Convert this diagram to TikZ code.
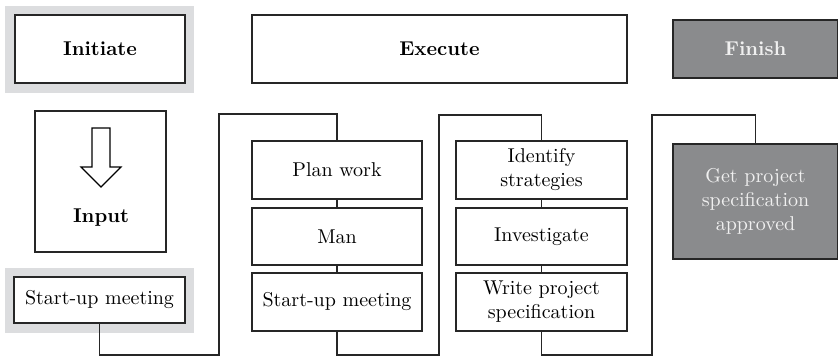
\documentclass[tikz,border=0pt]{standalone}
\usetikzlibrary{positioning}

\definecolor{lightgrey}{RGB}{220,221,223}
\definecolor{darkgrey}{RGB}{138,139,141}

\begin{document}
\begin{tikzpicture}[
  x=0.5pt, y=-0.5pt,
  box/.style={rectangle, draw=black!85, line width=0.6pt, fill=white, minimum width=85pt, minimum height=29pt, align=center, inner sep=1pt},
  head/.style={box, minimum height=34pt, font=\bfseries},
  dark/.style={box, fill=darkgrey, text=white!94!black},
  halo/.style={rectangle, fill=lightgrey, minimum width=94.5pt, inner sep=0pt},
  link/.style={draw=black!85, line width=0.7pt},
]
\useasboundingbox (0,0) rectangle (838,357);

% ══ Column positions ══
\def\xa{100}
\def\xb{337}
\def\xc{541.5}
\def\xd{755.5}

% ══ Phase headers ══
\node[halo, minimum height=43.5pt] (inithalo) at (99.5,49.5) {};
\node[head] (init) at (\xa,49) {Initiate};
\node[head, minimum width=187.5pt] (exec) at (439.5,49) {Execute};
\node[head, dark, minimum width=82.5pt] (finish) at (\xd,49) {Finish};

% ══ Initiate column ══
\node[box, minimum width=65.5pt, minimum height=70.5pt] (input) at (100.5,181.5) {};
\draw[line width=0.6pt, fill=white] (92,128) -- (110,128) -- (110,167) -- (121,167)
  -- (101,187) -- (81,167) -- (92,167) -- cycle;
\node[font=\bfseries] (inputtxt) at (101,218) {Input};

\node[halo, minimum height=32.5pt] (smhalo) at (99.5,300.5) {};
\node[box, minimum width=85.5pt, minimum height=23pt] (sm1) at (99.5,300) {Start-up meeting};

% ══ Execute: first column ══
\node[box] (plan) at (\xb,170) {Plan work};
\node[box, minimum height=28.5pt] (man) at (\xb,236.5) {Man};
\node[box] (sm2) at (\xb,302) {Start-up meeting};

\draw[link] (plan) -- (man);
\draw[link] (man) -- (sm2);

% ══ Execute: second column ══
\node[box, minimum width=85.5pt] (ident) at (\xc,170) {Identify\\strategies};
\node[box, minimum width=85.5pt, minimum height=28.5pt] (invest) at (\xc,236.5) {Investigate};
\node[box, minimum width=85.5pt] (spec) at (\xc,302) {Write project\\specification};

\draw[link] (ident) -- (invest);
\draw[link] (invest) -- (spec);

% ══ Finish column ══
\node[box, dark, minimum width=82.5pt, minimum height=57.5pt] (approve) at (\xd,201.5)
  {Get project\\specification\\approved};

% ══ Flow between columns ══
\coordinate (low1) at (219,355);
\coordinate (top1) at (219,114);
\draw[link] (sm1.south) |- (low1) -- (top1) -| (plan.north);

\coordinate (low2) at (439,355);
\coordinate (top2) at (439,115);
\draw[link] (sm2.south) |- (low2) -- (top2) -| (ident.north);

\coordinate (low3) at (652,355);
\coordinate (top3) at (652,115);
\draw[link] (spec.south) |- (low3) -- (top3) -| (approve.north);

\end{tikzpicture}
\end{document}
